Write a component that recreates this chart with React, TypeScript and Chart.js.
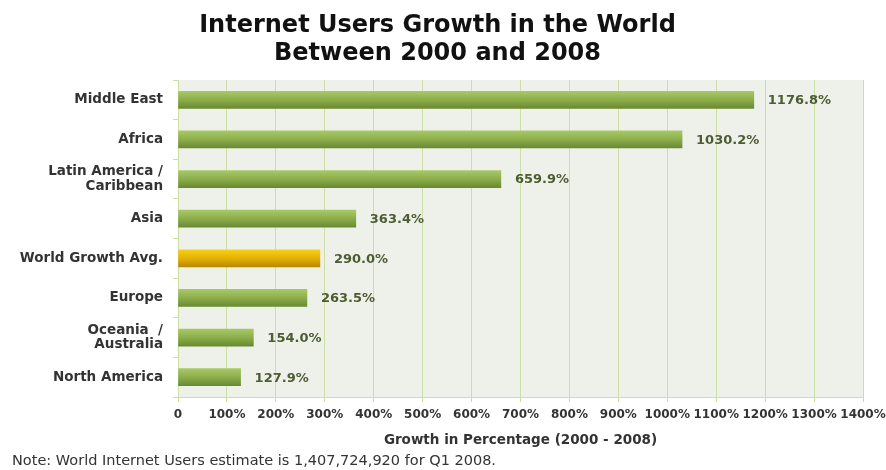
import React, { useEffect, useRef } from "react";
import { Chart, registerables } from "chart.js";

Chart.register(...registerables);

const categories: (string | string[])[] = [
  "Middle East",
  "Africa",
  ["Latin America /", "Caribbean"],
  "Asia",
  "World Growth Avg.",
  "Europe",
  ["Oceania  /", "Australia"],
  "North America",
];
const growth = [1176.8, 1030.2, 659.9, 363.4, 290.0, 263.5, 154.0, 127.9];
const highlightIndex = 4;
const xTicks = [0, 100, 200, 300, 400, 500, 600, 700, 800, 900, 1000, 1100, 1200, 1300, 1400];
const titleLines = ["Internet Users Growth in the World", "Between 2000 and 2008"];
const xAxisTitle = "Growth in Percentage (2000 - 2008)";
const noteText = "Note: World Internet Users estimate is 1,407,724,920 for Q1 2008.";

const SMALL = "'DejaVu Sans', Verdana, sans-serif";
const GRID = "#cddfa6";
const BAR_HALF = 8.5;

const plotBg = {
  id: "plotBg",
  beforeDraw(chart: any) {
    const { ctx, chartArea } = chart;
    if (!chartArea) return;
    ctx.save();
    ctx.fillStyle = "#eef1e9";
    ctx.fillRect(chartArea.left, chartArea.top, chartArea.right - chartArea.left, chartArea.bottom - chartArea.top);
    ctx.restore();
  },
};

const valueLabels = {
  id: "valueLabels",
  afterDatasetsDraw(chart: any) {
    const { ctx } = chart;
    const meta = chart.getDatasetMeta(0);
    ctx.save();
    ctx.font = `bold 13px ${SMALL}`;
    ctx.fillStyle = "#4d5c33";
    ctx.textBaseline = "middle";
    ctx.textAlign = "left";
    meta.data.forEach((el: any, i: number) => {
      const v = chart.data.datasets[0].data[i] as number;
      ctx.fillText(v.toFixed(1) + "%", el.x + 14, el.y + 1);
    });
    ctx.restore();
  },
};

function barFill(context: any) {
  const chart = context.chart;
  const { ctx, chartArea, scales } = chart;
  const gold = context.dataIndex === highlightIndex;
  if (!chartArea || !scales.y) return gold ? "#e3b000" : "#8cae4a";
  const yc = scales.y.getPixelForValue(context.dataIndex);
  const g = ctx.createLinearGradient(0, yc - BAR_HALF, 0, yc + BAR_HALF);
  if (gold) {
    g.addColorStop(0, "#f7cf1c");
    g.addColorStop(0.5, "#e4b200");
    g.addColorStop(1, "#b88a00");
  } else {
    g.addColorStop(0, "#a8c868");
    g.addColorStop(0.5, "#8cae4a");
    g.addColorStop(1, "#6a8a32");
  }
  return g;
}

export default function App() {
  const ref = useRef<HTMLCanvasElement>(null);
  useEffect(() => {
    if (!ref.current) return;
    const chart = new Chart(ref.current, {
      type: "bar",
      data: {
        labels: categories,
        datasets: [
          {
            data: growth,
            backgroundColor: barFill,
            borderWidth: 0,
            barThickness: 17,
          },
        ],
      },
      options: {
        indexAxis: "y",
        animation: false,
        responsive: true,
        maintainAspectRatio: false,
        layout: { padding: { left: 12, right: 23, top: 0, bottom: 0 } },
        plugins: {
          legend: { display: false },
          tooltip: { enabled: false },
          title: {
            display: true,
            text: titleLines,
            color: "#111",
            font: { family: SMALL, size: 24, weight: "bold", lineHeight: 1.2 },
            padding: { top: 11, bottom: 11.4 },
          },
          subtitle: {
            display: true,
            position: "bottom",
            align: "start",
            text: noteText,
            color: "#333",
            font: { family: SMALL, size: 14.5, weight: "normal", lineHeight: 1.2 },
            padding: { top: 2.5, bottom: 0 },
          },
        },
        scales: {
          x: {
            type: "linear",
            min: 0,
            max: 1400,
            afterBuildTicks(scale: any) {
              scale.ticks = xTicks.map((v) => ({ value: v }));
            },
            afterFit(scale: any) {
              scale.paddingLeft = 0;
              scale.paddingRight = 0;
            },
            ticks: {
              color: "#333",
              font: { family: SMALL, size: 12, weight: "bold", lineHeight: 1.2 },
              padding: 6,
              maxRotation: 0,
              autoSkip: false,
              callback: (v: any) => (v === 0 ? "0" : v + "%"),
            },
            grid: { color: GRID, lineWidth: 1, tickLength: 5, drawTicks: true },
            border: { color: GRID, width: 1 },
            title: {
              display: true,
              text: xAxisTitle,
              color: "#333",
              font: { family: SMALL, size: 13.5, weight: "bold", lineHeight: 1.2 },
              padding: { top: 3.5, bottom: 2 },
            },
          },
          y: {
            type: "category",
            afterFit(scale: any) {
              scale.width = 166;
            },
            ticks: {
              color: "#333",
              font: { family: SMALL, size: 13.5, weight: "bold", lineHeight: 1.05 },
              padding: 10,
            },
            grid: { color: GRID, drawOnChartArea: false, drawTicks: true, tickLength: 5, offset: true },
            border: { color: GRID, width: 1 },
          },
        },
      },
      plugins: [plotBg, valueLabels],
    });
    return () => chart.destroy();
  }, []);
  return (
    <div style={{ position: "absolute", left: 0, top: 0, width: 886, height: 470, background: "#fff" }}>
      <canvas ref={ref} />
    </div>
  );
}
